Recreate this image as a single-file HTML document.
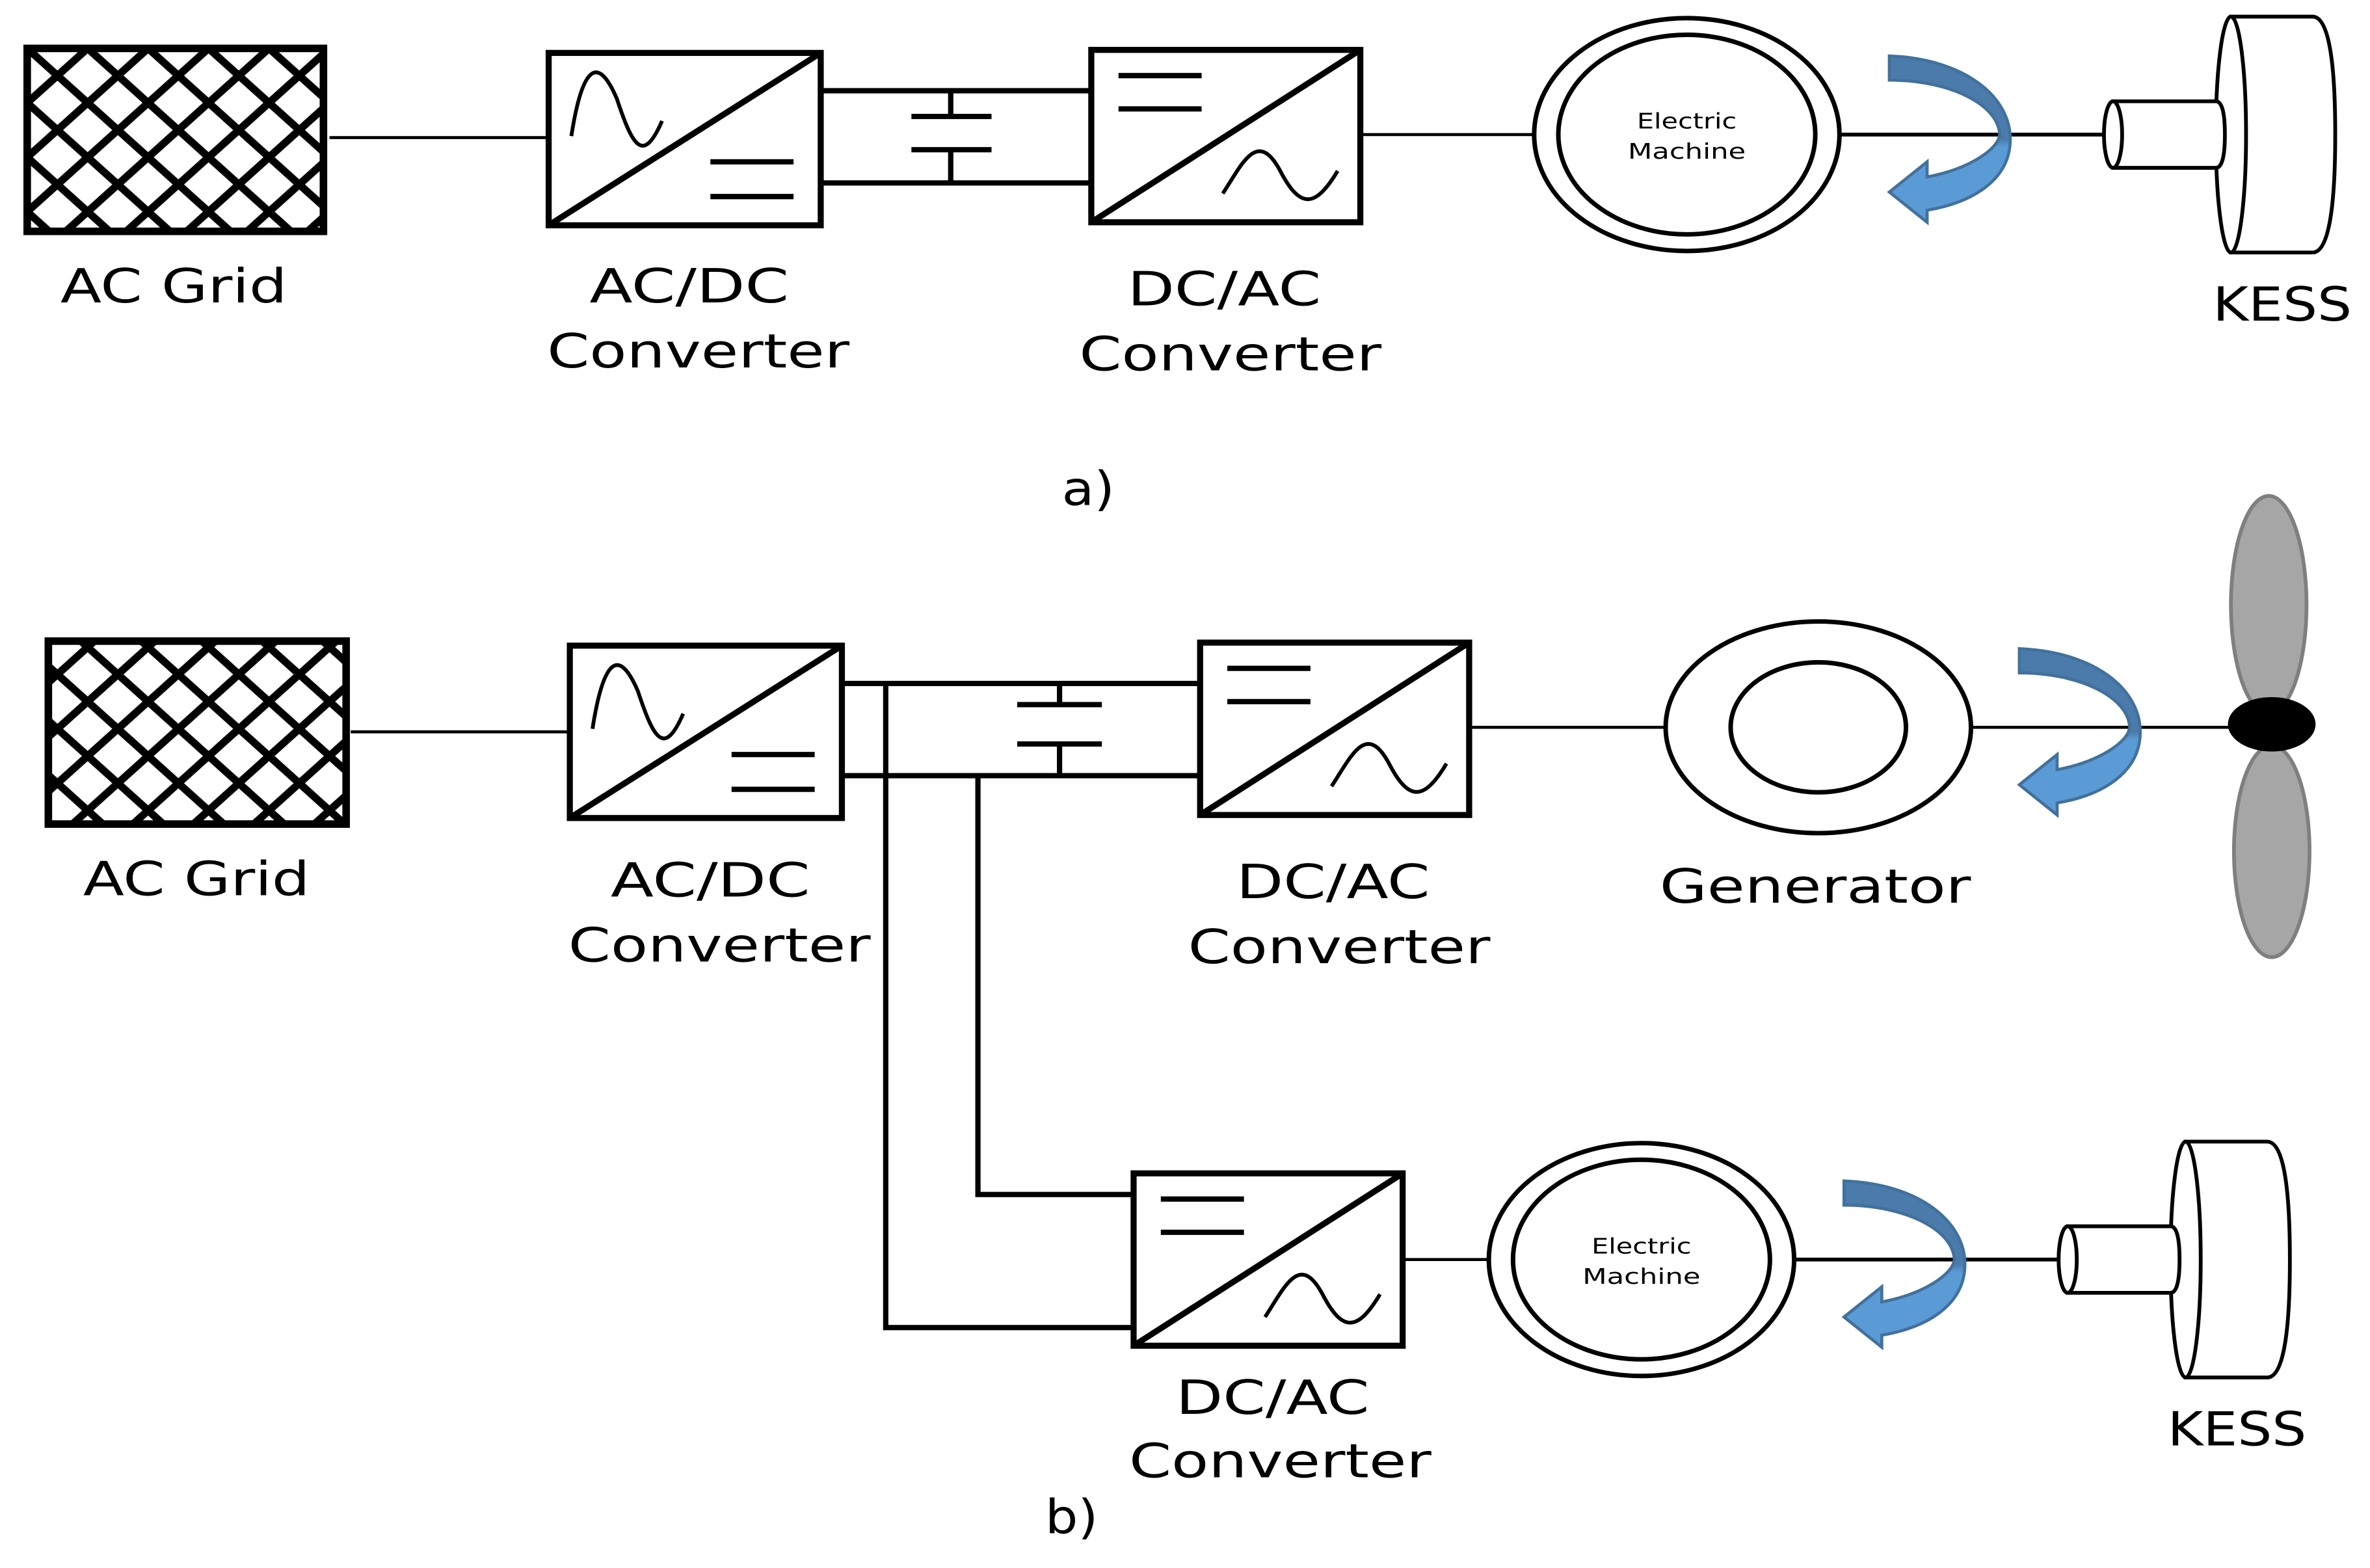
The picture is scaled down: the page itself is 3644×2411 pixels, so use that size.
<!DOCTYPE html>
<html><head><meta charset="utf-8"><style>html,body{margin:0;padding:0;background:#fff}svg{display:block}</style></head>
<body>
<svg width="3644" height="2411" viewBox="0 0 1568 1037" preserveAspectRatio="none" xmlns="http://www.w3.org/2000/svg">
<defs>
<pattern id="hatch" width="40" height="36" patternUnits="userSpaceOnUse" x="18" y="32">
<path d="M-20,-18 L60,54 M-20,18 L20,54 M20,-18 L60,18 M60,-18 L-20,54 M20,-18 L-20,18 M60,18 L20,54" stroke="#000" stroke-width="5"/>
</pattern>
<linearGradient id="bg" x1="0" y1="0" x2="0" y2="1"><stop offset="0.5" stop-color="#4a7bab"/><stop offset="0.55" stop-color="#5b9bd5"/></linearGradient>
<g id="arrow"><path d="M-80,-52 C-30,-50 0,-25 0,3 C0,30 -25,45 -55,50 L-55,58 L-80,38 L-55,18 L-55,28 C-28,23 -8,10 -7,0 C-8,-20 -40,-36 -80,-36 Z" fill="url(#bg)" stroke="#41719c" stroke-width="2"/></g>
<g id="kess" fill="#fff" stroke="#000" stroke-width="2.5">
<path d="M84,-78 L138,-78 Q153,-78 153,0 Q153,78 138,78 L84,78 Z"/>
<ellipse cx="84" cy="0" rx="10" ry="78"/>
<path d="M6,-22 L74,-22 Q80,-22 80,0 Q80,22 74,22 L6,22 Z"/>
<ellipse cx="6" cy="0" rx="6" ry="22"/>
</g>
<g id="em" fill="none" stroke="#000" stroke-width="3">
<ellipse cx="0" cy="0" rx="101" ry="77"/>
<ellipse cx="0" cy="0" rx="85" ry="66"/>
<text x="0" y="-4" font-family="DejaVu Sans, sans-serif" font-size="14" text-anchor="middle" fill="#000" stroke="none" textLength="66" lengthAdjust="spacingAndGlyphs">Electric</text>
<text x="0" y="16" font-family="DejaVu Sans, sans-serif" font-size="14" text-anchor="middle" fill="#000" stroke="none" textLength="78" lengthAdjust="spacingAndGlyphs">Machine</text>
</g>
<g id="acdc" fill="none" stroke="#000">
<rect x="0" y="0" width="180" height="114" stroke-width="4"/>
<path d="M0,114 L180,0" stroke-width="4"/>
<path d="M15,55 C22,10 32,0 45,30 C55,60 62,75 75,45" stroke-width="2.5"/>
<path d="M107,72 H162 M107,95 H162" stroke-width="3.5"/>
</g>
<g id="dcac" fill="none" stroke="#000">
<rect x="0" y="0" width="178" height="114" stroke-width="4"/>
<path d="M0,114 L178,0" stroke-width="4"/>
<path d="M18,17 H73 M18,39 H73" stroke-width="3.5"/>
<path d="M87,95 C100,75 110,52 125,80 C138,105 148,105 163,80" stroke-width="2.5"/>
</g>
</defs>

<g font-family="DejaVu Sans, sans-serif" font-size="31" fill="#000" text-anchor="middle" lengthAdjust="spacingAndGlyphs">
<!-- Part a -->
<rect x="18" y="32" width="196" height="121" fill="url(#hatch)" stroke="#000" stroke-width="5"/>
<line x1="218" y1="91" x2="363" y2="91" stroke="#000" stroke-width="2"/>
<use href="#acdc" x="363" y="35"/>
<path d="M543,60 H722 M543,121 H722 M629,60 V77 M603,77 H656 M603,99 H656 M629,99 V121" stroke="#000" stroke-width="3.5" fill="none"/>
<use href="#dcac" x="722" y="33"/>
<line x1="900" y1="89" x2="1015" y2="89" stroke="#000" stroke-width="2"/>
<use href="#em" x="1116" y="89"/>
<line x1="1217" y1="89" x2="1392" y2="89" stroke="#000" stroke-width="2.5"/>
<use href="#arrow" x="1330" y="89"/>
<use href="#kess" x="1392" y="89"/>
<text x="115" y="200" textLength="150" lengthAdjust="spacingAndGlyphs">AC Grid</text>
<text x="456" y="200" textLength="132" lengthAdjust="spacingAndGlyphs">AC/DC</text>
<text x="462" y="243" textLength="200" lengthAdjust="spacingAndGlyphs">Converter</text>
<text x="810" y="202" textLength="128" lengthAdjust="spacingAndGlyphs">DC/AC</text>
<text x="814" y="245" textLength="200" lengthAdjust="spacingAndGlyphs">Converter</text>
<text x="1510" y="212" textLength="92" lengthAdjust="spacingAndGlyphs">KESS</text>
<text x="720" y="334" textLength="35" lengthAdjust="spacingAndGlyphs">a)</text>

<!-- Part b -->
<rect x="32" y="424" width="197" height="121" fill="url(#hatch)" stroke="#000" stroke-width="5"/>
<line x1="232" y1="484" x2="377" y2="484" stroke="#000" stroke-width="2"/>
<use href="#acdc" x="377" y="427"/>
<path d="M558,452 H794 M558,513 H794 M586,452 V878 H750 M647,513 V790 H750 M701,452 V466 M673,466 H729 M673,492 H729 M701,492 V513" stroke="#000" stroke-width="3.5" fill="none"/>
<use href="#dcac" x="794" y="425"/>
<line x1="973" y1="481" x2="1102" y2="481" stroke="#000" stroke-width="2"/>
<ellipse cx="1203" cy="481" rx="101" ry="70" fill="none" stroke="#000" stroke-width="3"/>
<ellipse cx="1203" cy="481" rx="58" ry="43" fill="none" stroke="#000" stroke-width="3"/>
<line x1="1304" y1="481" x2="1480" y2="481" stroke="#000" stroke-width="2"/>
<ellipse cx="1501" cy="400" rx="25" ry="72" fill="#a6a6a6" stroke="#7f7f7f" stroke-width="2.5"/>
<ellipse cx="1503" cy="563" rx="25" ry="70" fill="#a6a6a6" stroke="#7f7f7f" stroke-width="2.5"/>
<ellipse cx="1503" cy="479" rx="29" ry="18" fill="#000"/>
<use href="#arrow" x="1416" y="481"/>
<text x="130" y="592" textLength="150" lengthAdjust="spacingAndGlyphs">AC Grid</text>
<text x="470" y="593" textLength="132" lengthAdjust="spacingAndGlyphs">AC/DC</text>
<text x="476" y="636" textLength="200" lengthAdjust="spacingAndGlyphs">Converter</text>
<text x="882" y="594" textLength="128" lengthAdjust="spacingAndGlyphs">DC/AC</text>
<text x="886" y="637" textLength="200" lengthAdjust="spacingAndGlyphs">Converter</text>
<text x="1201" y="597" textLength="206" lengthAdjust="spacingAndGlyphs">Generator</text>

<use href="#dcac" x="750" y="776"/>
<line x1="928" y1="833" x2="985" y2="833" stroke="#000" stroke-width="2"/>
<use href="#em" x="1086" y="833"/>
<line x1="1187" y1="833" x2="1362" y2="833" stroke="#000" stroke-width="2.5"/>
<use href="#arrow" x="1300" y="833"/>
<use href="#kess" x="1362" y="833"/>
<text x="842" y="935" textLength="128" lengthAdjust="spacingAndGlyphs">DC/AC</text>
<text x="847" y="977" textLength="200" lengthAdjust="spacingAndGlyphs">Converter</text>
<text x="1480" y="956" textLength="92" lengthAdjust="spacingAndGlyphs">KESS</text>
<text x="709" y="1014" textLength="35" lengthAdjust="spacingAndGlyphs">b)</text>
</g>
</svg>
</body></html>
